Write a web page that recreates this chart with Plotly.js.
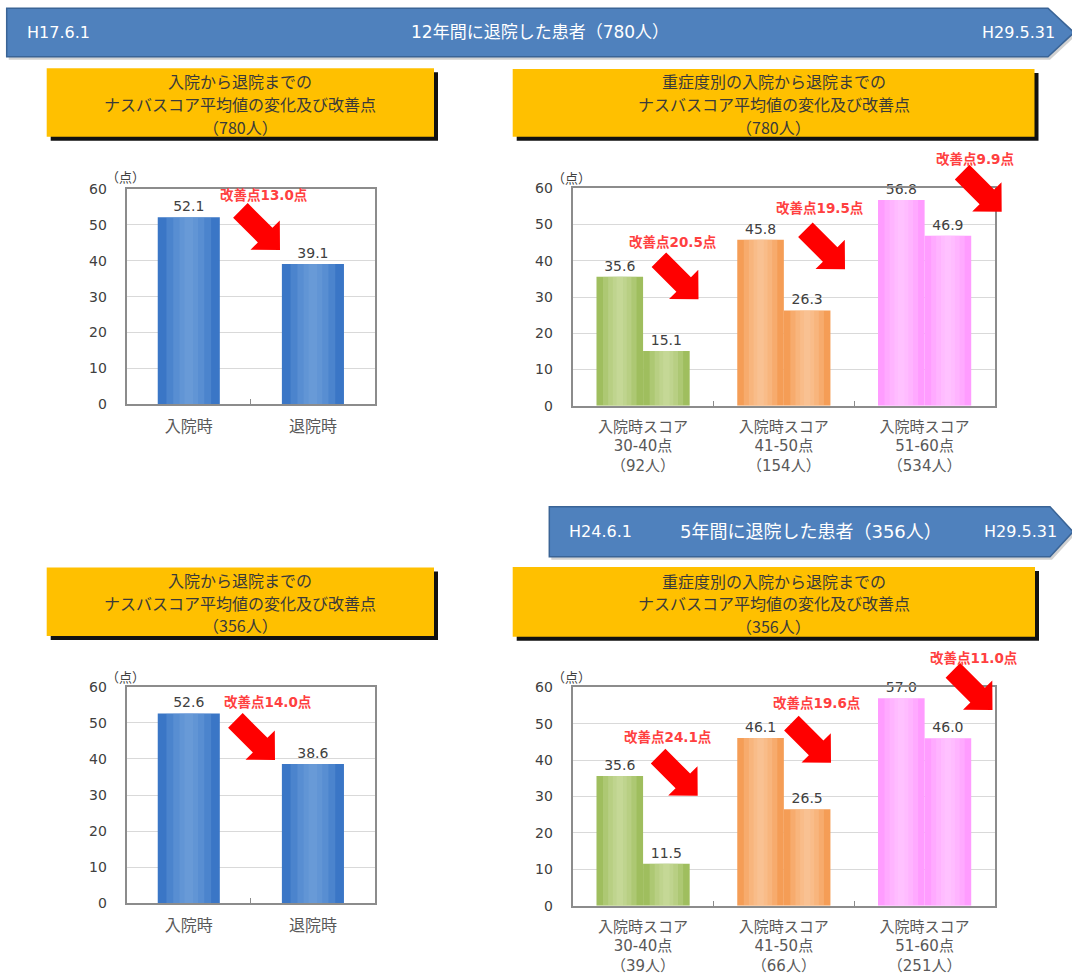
<!DOCTYPE html>
<html><head><meta charset="utf-8">
<script src="https://cdn.plot.ly/plotly-3.0.1.min.js"></script>
<style>html,body{margin:0;padding:0;background:#fff;} #chart{width:1072px;height:974px;}</style>
</head><body><div id="chart"></div>
<script>
// ---------------- data ----------------
const overallCats = ['入院時', '退院時'];
const overall780 = [52.1, 39.1];
const overall356 = [52.6, 38.6];
const overallGain780 = 13.0;
const overallGain356 = 14.0;

const sevCats780 = ['入院時スコア<br>30-40点<br>（92人）', '入院時スコア<br>41-50点<br>（154人）', '入院時スコア<br>51-60点<br>（534人）'];
const sevCats356 = ['入院時スコア<br>30-40点<br>（39人）', '入院時スコア<br>41-50点<br>（66人）', '入院時スコア<br>51-60点<br>（251人）'];
const sevAdmit780 = [35.6, 45.8, 56.8];
const sevDischarge780 = [15.1, 26.3, 46.9];
const sevGain780 = [20.5, 19.5, 9.9];
const sevAdmit356 = [35.6, 46.1, 57.0];
const sevDischarge356 = [11.5, 26.5, 46.0];
const sevGain356 = [24.1, 19.6, 11.0];

const bannerTop = ['H17.6.1', '12年間に退院した患者（780人）', 'H29.5.31'];
const bannerBottom = ['H24.6.1', '5年間に退院した患者（356人）', 'H29.5.31'];
const boxTitleOverall = ['入院から退院までの', 'ナスバスコア平均値の変化及び改善点'];
const boxTitleSev = ['重症度別の入院から退院までの', 'ナスバスコア平均値の変化及び改善点'];
const boxCounts = ['（780人）', '（356人）'];
const unitLabel = '（点）';
const gainPrefix = '改善点';
const gainSuffix = '点';

// ---------------- helpers ----------------
const W = 1072, H = 974;
const X = px => px / W;
const Y = py => 1 - py / H;
const FONT = 'DejaVu Sans, Noto Sans CJK JP, sans-serif';
const CJK = 'Noto Sans CJK JP, DejaVu Sans, sans-serif';

const blueEdge = '#3a76c6', blueMid = '#7aa8e0';
const sevEdge = ['#9fbe5e', '#f59d56', '#ff9cff'];
const sevMid = ['#d3e4ae', '#fcd2aa', '#ffd0ff'];

const traces = [];
function barLayers(xa, ya, cats, vals, edge, mid, center, width) {
  traces.push({
    type: 'bar', x: cats, y: vals, xaxis: xa, yaxis: ya,
    width: width, offset: center - width / 2,
    marker: {color: edge, line: {width: 0}},
    texttemplate: '%{y:.1f}', textposition: 'outside', cliponaxis: false,
    textfont: {family: FONT, size: 14, color: '#404040'},
    hoverinfo: 'skip', showlegend: false
  });
  [0.72, 0.5, 0.3, 0.14].forEach(f => {
    traces.push({
      type: 'bar', x: cats, y: vals, xaxis: xa, yaxis: ya,
      width: width * f, offset: center - width * f / 2,
      marker: {color: mid, opacity: 0.28, line: {width: 0}},
      hoverinfo: 'skip', showlegend: false, textposition: 'none'
    });
  });
}

// overall charts
barLayers('x', 'y', overallCats, overall780, blueEdge, blueMid, 0, 0.5);
barLayers('x3', 'y3', overallCats, overall356, blueEdge, blueMid, 0, 0.5);
// severity charts
barLayers('x2', 'y2', sevCats780, sevAdmit780, sevEdge, sevMid, -0.1655, 0.331);
barLayers('x2', 'y2', sevCats780, sevDischarge780, sevEdge, sevMid, 0.1655, 0.331);
barLayers('x4', 'y4', sevCats356, sevAdmit356, sevEdge, sevMid, -0.1655, 0.331);
barLayers('x4', 'y4', sevCats356, sevDischarge356, sevEdge, sevMid, 0.1655, 0.331);

function xAxis(domPx, n, anchor, fs) {
  return {
    domain: [X(domPx[0]), X(domPx[1])], anchor: anchor, type: 'category',
    range: [-0.5, n - 0.5], showline: true, mirror: true, linecolor: '#8c8c8c', linewidth: 2,
    ticks: 'inside', tickson: 'boundaries', ticklen: 5, tickcolor: '#8c8c8c', tickwidth: 1,
    showgrid: false, tickfont: {family: FONT, size: fs, color: '#595959'},
    ticklabelstandoff: 6, fixedrange: true
  };
}
function yAxis(domPy, anchor) {
  return {
    domain: [Y(domPy[1]), Y(domPy[0])], anchor: anchor, range: [0, 60], dtick: 10,
    showline: true, mirror: true, linecolor: '#8c8c8c', linewidth: 2,
    showgrid: true, gridcolor: '#d9d9d9', gridwidth: 1, zeroline: false,
    ticks: '', tickfont: {family: FONT, size: 14, color: '#404040'},
    ticklabelstandoff: 15, fixedrange: true
  };
}

const shapes = [];
const annotations = [];

function polyPath(pts) {
  return 'M' + pts.map(p => X(p[0]).toFixed(5) + ',' + Y(p[1]).toFixed(5)).join(' L') + ' Z';
}
function banner(x0, y0, x1, xt, y1, texts, sizeMain, mainX, endX) {
  const ym = (y0 + y1) / 2;
  shapes.push({type: 'path', xref: 'paper', yref: 'paper',
    path: polyPath([[x0 + 2, y0 + 3], [x1 + 2, y0 + 3], [xt + 2, ym + 3], [x1 + 2, y1 + 3], [x0 + 2, y1 + 3]]),
    fillcolor: 'rgba(0,0,0,0.18)', line: {width: 0}});
  shapes.push({type: 'path', xref: 'paper', yref: 'paper',
    path: polyPath([[x0, y0], [x1, y0], [xt, ym], [x1, y1], [x0, y1]]),
    fillcolor: '#4f81bd', line: {color: '#3a6496', width: 1.5}});
  annotations.push({xref: 'paper', yref: 'paper', x: X(x0 + 18), y: Y(ym), xanchor: 'left', yanchor: 'middle',
    text: texts[0], showarrow: false, font: {family: FONT, size: 16, color: '#ffffff'}});
  annotations.push({xref: 'paper', yref: 'paper', x: X(mainX), y: Y(ym), xanchor: 'center', yanchor: 'middle',
    text: texts[1], showarrow: false, font: {family: FONT, size: sizeMain, color: '#ffffff'}});
  annotations.push({xref: 'paper', yref: 'paper', x: X(endX), y: Y(ym), xanchor: 'center', yanchor: 'middle',
    text: texts[2], showarrow: false, font: {family: FONT, size: 16, color: '#ffffff'}});
}
banner(6.7, 8.3, 1048, 1074, 56.7, bannerTop, 17, 540, 1018);
banner(549.3, 506.7, 1050, 1073, 556.7, bannerBottom, 18, 811, 1020);

function box(x0, y0, x1, y1, lines, lineY) {
  shapes.push({type: 'rect', xref: 'paper', yref: 'paper', x0: X(x0 + 4), x1: X(x1 + 4), y0: Y(y1 + 4), y1: Y(y0 + 4),
    fillcolor: '#111111', line: {width: 0}});
  shapes.push({type: 'rect', xref: 'paper', yref: 'paper', x0: X(x0), x1: X(x1), y0: Y(y1), y1: Y(y0),
    fillcolor: '#ffc000', line: {width: 0}});
  lines.forEach((t, i) => {
    annotations.push({xref: 'paper', yref: 'paper', x: X((x0 + x1) / 2), y: Y(lineY[i]), xanchor: 'center', yanchor: 'middle',
      text: t, align: 'center', showarrow: false, font: {family: CJK, size: 16, color: '#3a3a3a'}});
  });
}
box(46.7, 68.3, 434, 136.7, [boxTitleOverall[0], boxTitleOverall[1], boxCounts[0]], [81, 104, 127]);
box(512.7, 69, 1034.5, 136.7, [boxTitleSev[0], boxTitleSev[1], boxCounts[0]], [81, 104, 127]);
box(46.7, 567.5, 434, 636, [boxTitleOverall[0], boxTitleOverall[1], boxCounts[1]], [580, 602.5, 625]);
box(512.7, 567, 1035, 636.7, [boxTitleSev[0], boxTitleSev[1], boxCounts[1]], [580.5, 603, 625.5]);

function arrow(tx, ty) {
  const L = 56, sw = 10.3, hw = 20.7, hl = 21, c = Math.SQRT1_2;
  const tail = [tx - L * c, ty - L * c];
  const pts = [[0, sw], [L - hl, sw], [L - hl, hw], [L, 0], [L - hl, -hw], [L - hl, -sw], [0, -sw]]
    .map(([u, v]) => [tail[0] + u * c + v * c, tail[1] + u * c - v * c]);
  shapes.push({type: 'path', xref: 'paper', yref: 'paper', path: polyPath(pts), fillcolor: '#ff0000', line: {width: 0}});
}
function gainLabel(cx, cy, val) {
  annotations.push({xref: 'paper', yref: 'paper', x: X(cx), y: Y(cy), xanchor: 'center', yanchor: 'middle',
    text: gainPrefix + val.toFixed(1) + gainSuffix, showarrow: false,
    font: {family: FONT, size: 13.5, color: '#ff4040', weight: 'bold'}});
}
function unit(cx, cy) {
  annotations.push({xref: 'paper', yref: 'paper', x: X(cx), y: Y(cy), xanchor: 'center', yanchor: 'middle',
    text: unitLabel, showarrow: false, font: {family: CJK, size: 13, color: '#404040'}});
}

// top-left
arrow(280, 250); gainLabel(264, 195, overallGain780); unit(125, 176);
// bottom-left
arrow(275, 760); gainLabel(268, 702, overallGain356); unit(125, 676);
// top-right
arrow(698.5, 299.3); gainLabel(673, 241.7, sevGain780[0]);
arrow(845, 269.3); gainLabel(820, 208, sevGain780[1]);
arrow(1001.7, 211.7); gainLabel(975, 159, sevGain780[2]);
unit(571, 177);
// bottom-right
arrow(697.7, 795.7); gainLabel(668, 737.3, sevGain356[0]);
arrow(831, 762.7); gainLabel(817.3, 703.3, sevGain356[1]);
arrow(992.5, 710); gainLabel(973.6, 658.3, sevGain356[2]);
unit(571, 676);

const layout = {
  width: W, height: H, autosize: false,
  margin: {l: 0, r: 0, t: 0, b: 0, pad: 0},
  paper_bgcolor: '#ffffff', plot_bgcolor: '#ffffff',
  barmode: 'overlay', showlegend: false, hovermode: false,
  font: {family: FONT, color: '#404040'},
  xaxis: xAxis([126.7, 375], 2, 'y', 16),
  yaxis: yAxis([189, 404.3], 'x'),
  xaxis2: xAxis([572.7, 995], 3, 'y2', 15),
  yaxis2: yAxis([188.3, 405.7], 'x2'),
  xaxis3: xAxis([126.7, 375], 2, 'y3', 16),
  yaxis3: yAxis([686.7, 903.3], 'x3'),
  xaxis4: xAxis([572.7, 995], 3, 'y4', 15),
  yaxis4: yAxis([687.3, 905.7], 'x4'),
  shapes: shapes,
  annotations: annotations
};

Plotly.newPlot('chart', traces, layout, {staticPlot: true, displayModeBar: false});
</script>
</body></html>
